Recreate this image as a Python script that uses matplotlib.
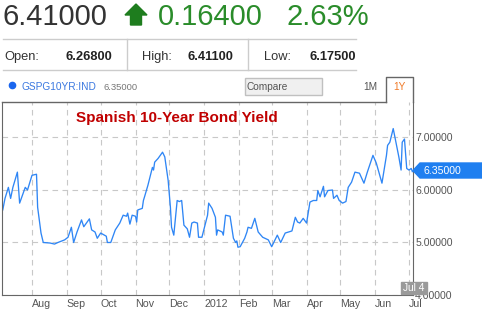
import matplotlib
matplotlib.use('Agg')
import matplotlib.pyplot as plt
from matplotlib.patches import Polygon, Rectangle
from matplotlib.lines import Line2D
import pandas as pd

plt.rcParams['font.family'] = ['Liberation Sans', 'DejaVu Sans']

# values (Spanish 10Y yield, Jul 2011 - Jul 2012)
dates = [
    '2011-07-06', '2011-07-08', '2011-07-11', '2011-07-13', '2011-07-15', '2011-07-19',
    '2011-07-21', '2011-07-26', '2011-07-28', '2011-08-01', '2011-08-05', '2011-08-06',
    '2011-08-09', '2011-08-11', '2011-08-17', '2011-08-21', '2011-08-24', '2011-08-30',
    '2011-09-02', '2011-09-05', '2011-09-07', '2011-09-10', '2011-09-14', '2011-09-16',
    '2011-09-21', '2011-09-23', '2011-09-26', '2011-09-28', '2011-10-01', '2011-10-06',
    '2011-10-07', '2011-10-10', '2011-10-14', '2011-10-18', '2011-10-21', '2011-10-24',
    '2011-10-25', '2011-10-27', '2011-10-29', '2011-11-01', '2011-11-02', '2011-11-03',
    '2011-11-07', '2011-11-08', '2011-11-09', '2011-11-12', '2011-11-16', '2011-11-17',
    '2011-11-18', '2011-11-21', '2011-11-25', '2011-11-27', '2011-11-30', '2011-12-02',
    '2011-12-03', '2011-12-05', '2011-12-08', '2011-12-10', '2011-12-12', '2011-12-14',
    '2011-12-17', '2011-12-19', '2011-12-21', '2011-12-23', '2011-12-26', '2011-12-27',
    '2011-12-30', '2012-01-04', '2012-01-05', '2012-01-08', '2012-01-11', '2012-01-12',
    '2012-01-13', '2012-01-17', '2012-01-18', '2012-01-20', '2012-01-24', '2012-01-27',
    '2012-01-29', '2012-01-30', '2012-01-31', '2012-02-02', '2012-02-04', '2012-02-06',
    '2012-02-08', '2012-02-09', '2012-02-12', '2012-02-15', '2012-02-18', '2012-02-22',
    '2012-02-27', '2012-03-01', '2012-03-04', '2012-03-06', '2012-03-09', '2012-03-13',
    '2012-03-16', '2012-03-19', '2012-03-22', '2012-03-24', '2012-03-26', '2012-03-29',
    '2012-04-01', '2012-04-04', '2012-04-07', '2012-04-10', '2012-04-11', '2012-04-13',
    '2012-04-16', '2012-04-17', '2012-04-20', '2012-04-24', '2012-04-25', '2012-04-28',
    '2012-04-30', '2012-05-03', '2012-05-06', '2012-05-08', '2012-05-11', '2012-05-14',
    '2012-05-18', '2012-05-22', '2012-05-25', '2012-05-29', '2012-05-30', '2012-06-02',
    '2012-06-05', '2012-06-07', '2012-06-11', '2012-06-12', '2012-06-14', '2012-06-17',
    '2012-06-20', '2012-06-22', '2012-06-24', '2012-06-25', '2012-06-27', '2012-06-29',
    '2012-07-01', '2012-07-03', '2012-07-04',
]
yields = [
    5.62, 5.84, 6.05, 5.84, 6.05, 6.34,
    5.75, 6.05, 6.00, 6.28, 6.30, 5.67,
    5.18, 5.00, 4.99, 4.97, 5.00, 5.05,
    5.10, 5.29, 5.00, 5.20, 5.43, 5.30,
    5.45, 5.24, 5.20, 5.08, 5.18, 5.12,
    5.00, 5.00, 5.24, 5.37, 5.52, 5.50,
    5.56, 5.35, 5.52, 5.50, 5.39, 5.62,
    5.65, 5.80, 5.87, 6.09, 6.43, 6.38,
    6.53, 6.60, 6.72, 6.63, 6.18, 5.67,
    5.29, 5.14, 5.80, 5.78, 5.80, 5.33,
    5.26, 5.10, 5.37, 5.39, 5.37, 5.10,
    5.10, 5.52, 5.75, 5.65, 5.48, 5.14,
    5.24, 5.20, 5.14, 5.52, 5.50, 5.08,
    5.00, 5.03, 4.91, 4.92, 5.00, 5.08,
    5.20, 5.29, 5.27, 5.46, 5.20, 5.10,
    5.05, 4.92, 5.05, 5.14, 5.00, 5.18,
    5.20, 5.22, 5.48, 5.39, 5.37, 5.46,
    5.37, 5.77, 5.80, 5.80, 5.99, 5.87,
    6.07, 5.87, 5.99, 6.00, 5.84, 5.90,
    5.80, 5.75, 5.78, 6.05, 6.15, 6.34,
    6.32, 6.13, 6.34, 6.60, 6.66, 6.51,
    6.28, 6.13, 6.66, 6.85, 6.91, 7.17,
    6.85, 6.63, 6.38, 6.91, 6.97, 6.41,
    6.38, 6.41, 6.35,
]

month_starts = ['2011-08-01', '2011-09-01', '2011-10-01', '2011-11-01', '2011-12-01', '2012-01-01',
                '2012-02-01', '2012-03-01', '2012-04-01', '2012-05-01', '2012-06-01', '2012-07-01']
month_labels = ['Aug', 'Sep', 'Oct', 'Nov', 'Dec', '2012', 'Feb', 'Mar', 'Apr', 'May', 'Jun', 'Jul']
y_ticks = [4.0, 5.0, 6.0, 7.0]

last_price = '6.41000'
change = '0.16400'
change_pct = '2.63%'
open_px, high_px, low_px = '6.26800', '6.41100', '6.17500'
last_yield = '6.35000'

W, H = 482, 314
fig = plt.figure(figsize=(W / 100, H / 100), dpi=100)


def fx(x):
    return x / W


def fy(y):
    return 1 - y / H


def pts(seq):
    return [(fx(a), fy(b)) for a, b in seq]


# ---- header ----
fig.text(fx(3), fy(25), last_price, size=21, color='#333333', va='baseline')
fig.add_artist(Polygon(pts([(125, 15), (136, 4), (147, 15), (141.5, 15), (141.5, 25), (130.5, 25), (130.5, 15)]),
                       closed=True, color='#1e7d1e', transform=fig.transFigure))
fig.text(fx(158), fy(25), change, size=21, color='#2a8c2a', va='baseline')
fig.text(fx(287), fy(25), change_pct, size=21, color='#2a8c2a', va='baseline')

for y in (39, 70):
    fig.add_artist(Line2D([fx(3), fx(356)], [fy(y), fy(y)], color='#cccccc', lw=1, transform=fig.transFigure))
for x in (127, 248):
    fig.add_artist(Line2D([fx(x), fx(x)], [fy(39), fy(70)], color='#cccccc', lw=1, transform=fig.transFigure))

row = [(4, 'Open:', False), (65, open_px, True), (142, 'High:', False), (188, high_px, True),
       (264, 'Low:', False), (310, low_px, True)]
for x, s, b in row:
    fig.text(fx(x), fy(60), s, size=9.3, color='#222222' if b else '#333333',
             weight='bold' if b else 'normal', va='baseline')

# ---- legend / controls row ----
fig.add_artist(Line2D([fx(12)], [fy(85)], marker='o', ms=4.5, color='#1a66ee', transform=fig.transFigure))
fig.text(fx(21), fy(90), 'GSPG10YR:IND', size=7.3, color='#3a78e0', va='baseline')
fig.text(fx(103), fy(90), last_yield, size=6.8, color='#777777', va='baseline')
fig.add_artist(Rectangle((fx(245), fy(95)), 77 / W, 17 / H, facecolor='#f0f0f0', edgecolor='#c0c0c0',
                         lw=1, transform=fig.transFigure))
fig.text(fx(247), fy(90), 'Compare', size=7.3, color='#555555', va='baseline')
fig.text(fx(363), fy(90), '1M', size=7.3, color='#555555', va='baseline')
fig.text(fx(393), fy(90), '1Y', size=7.3, color='#f07a28', va='baseline')

# ---- chart ----
ax = fig.add_axes([fx(2), fy(295), fx(413) - fx(2), fy(102) - fy(295)])
ax.plot(pd.to_datetime(dates), yields, color='#2f86f5', lw=0.95)
ax.set_xlim(pd.Timestamp('2011-07-05 08:00'), pd.Timestamp('2012-07-04 14:00'))
ax.set_ylim(4.0, 7.676)

ax.set_yticks(y_ticks)
ax.set_yticklabels([f'{v:.5f}' for v in y_ticks])
ax.yaxis.tick_right()
ax.tick_params(axis='y', length=0, pad=1.5, labelsize=7.6, labelcolor='#555555')
ax.set_xticks(pd.to_datetime(month_starts))
ax.set_xticklabels(month_labels)
ax.tick_params(axis='x', length=0, pad=3, labelsize=7.7, labelcolor='#555555')
for lbl in ax.get_xticklabels():
    lbl.set_horizontalalignment('left')

ax.set_axisbelow(True)
ax.grid(True, color='#c8c8c8', linestyle=(0, (5, 4)), linewidth=0.8)
for side in ('left', 'right', 'bottom'):
    ax.spines[side].set_color('#666666')
ax.spines['top'].set_visible(False)

# top border with the "1Y" tab
fig.add_artist(Line2D([fx(2), fx(386)], [fy(102), fy(102)], color='#666666', lw=1, transform=fig.transFigure))
fig.add_artist(Line2D([fx(386), fx(386), fx(413), fx(413)], [fy(102), fy(77), fy(77), fy(102)],
                      color='#666666', lw=1, transform=fig.transFigure))

ax.text(0.18, 0.915, 'Spanish 10-Year Bond Yield', transform=ax.transAxes, size=11, weight='bold',
        color='#c00000', va='center')

# current value marker
fig.add_artist(Polygon(pts([(413, 170.5), (420, 163), (482, 163), (482, 178), (420, 178)]),
                       closed=True, color='#1f7ff0', transform=fig.transFigure))
fig.text(fx(423), fy(171), last_yield, size=7.6, color='white', va='center')

# date marker
fig.add_artist(Rectangle((fx(401), fy(294)), 26 / W, 12 / H, color='#9a9a9a', transform=fig.transFigure))
fig.text(fx(414), fy(288), 'Jul 4', size=7.3, color='white', ha='center', va='center')

fig.savefig('out.png', dpi=100)
